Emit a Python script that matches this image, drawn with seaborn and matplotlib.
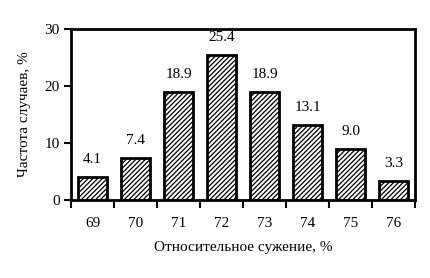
import matplotlib
matplotlib.use("Agg")
import matplotlib.pyplot as plt
import seaborn as sns
import pandas as pd
from matplotlib.ticker import FixedLocator, NullFormatter

categories = ["69", "70", "71", "72", "73", "74", "75", "76"]
values = [4.1, 7.4, 18.9, 25.4, 18.9, 13.1, 9.0, 3.3]
labels = ["4.1", "7.4", "18.9", "25.4", "18.9", "13.1", "9.0", "3.3"]

sns.set_theme(style="white")
plt.rcParams['font.family'] = ['Liberation Serif', 'DejaVu Serif']
plt.rcParams['hatch.linewidth'] = 0.9

df = pd.DataFrame({"cat": categories, "val": values})

fig = plt.figure(figsize=(4.3, 2.78), dpi=100)
ax = fig.add_axes([71/430, 1 - 200/278, (415-71)/430, (200-29)/278])
sns.barplot(data=df, x="cat", y="val", order=categories, color="white",
            edgecolor="black", linewidth=2, width=0.67, ax=ax)
for p in ax.patches:
    p.set_hatch("///////")
    p.set_facecolor("white")

for c in ax.containers:
    ax.bar_label(c, labels=labels, padding=8, fontsize=11, color="black")

ax.set_xlim(-0.5, len(categories) - 0.5)
ax.set_ylim(0, 30)
ax.set_yticks([0, 10, 20, 30])
ax.tick_params(axis="y", which="major", direction="out", length=5, width=1.5,
               labelsize=11, colors="black", pad=3, left=True)
ax.tick_params(axis="x", which="major", length=0, pad=12, labelsize=11, colors="black")
ax.xaxis.set_minor_locator(FixedLocator([i - 0.5 for i in range(len(categories) + 1)]))
ax.xaxis.set_minor_formatter(NullFormatter())
ax.tick_params(axis="x", which="minor", direction="out", length=6, width=1.5,
               colors="black", bottom=True)

for s in ax.spines.values():
    s.set_visible(True)
    s.set_color("black")
    s.set_linewidth(2)

ax.set_xlabel("Относительное сужение, %", fontsize=11, color="black", labelpad=8)
ax.set_ylabel("Частота случаев, %", fontsize=11, color="black", labelpad=10)
ax.grid(False)

fig.savefig("out.png", dpi=100)
